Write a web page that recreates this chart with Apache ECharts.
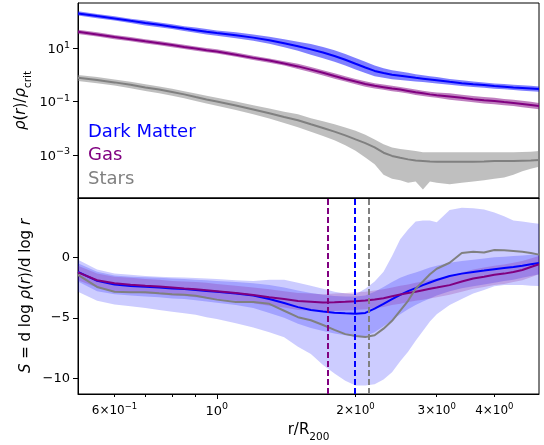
<!DOCTYPE html>
<html>
<head>
<meta charset="utf-8">
<script src="https://cdn.jsdelivr.net/npm/echarts@6/dist/echarts.min.js"></script>
<style>
html, body { margin: 0; padding: 0; background: #fff; }
#chart { width: 544px; height: 445px; }
</style>
</head>
<body>
<div id="chart"></div>
<script>
// radius grid r/R200
const r = [0.5, 0.55, 0.6, 0.65, 0.7, 0.75, 0.8, 0.85, 0.9, 0.95, 1.0, 1.1, 1.2, 1.3, 1.4, 1.5, 1.6, 1.7, 1.8, 1.9,
  2.0, 2.1, 2.2, 2.3, 2.4, 2.5, 2.6, 2.7, 2.8, 2.9, 3.0, 3.2, 3.4, 3.6, 3.8, 4.0, 4.2, 4.4, 4.6, 4.8, 5.0];

// top panel: log10(rho/rho_crit)
const dmLogRho = [2.31,2.21,2.12,2.03,1.95,1.88,1.81,1.74,1.68,1.62,1.57,1.49,1.40,1.30,1.19,1.08,0.96,0.84,0.71,0.57,0.42,0.28,0.15,0.07,0.01,-0.03,-0.07,-0.11,-0.14,-0.17,-0.20,-0.26,-0.31,-0.35,-0.38,-0.42,-0.44,-0.47,-0.49,-0.51,-0.53];
const dmLogRhoLo = [2.23,2.13,2.04,1.95,1.86,1.79,1.72,1.65,1.58,1.52,1.47,1.38,1.28,1.17,1.04,0.91,0.76,0.63,0.49,0.35,0.20,0.07,-0.05,-0.11,-0.16,-0.19,-0.22,-0.25,-0.27,-0.29,-0.32,-0.37,-0.42,-0.45,-0.48,-0.52,-0.54,-0.57,-0.59,-0.61,-0.63];
const dmLogRhoHi = [2.39,2.29,2.20,2.11,2.04,1.97,1.90,1.83,1.78,1.72,1.67,1.60,1.52,1.43,1.34,1.25,1.16,1.05,0.93,0.79,0.64,0.49,0.35,0.25,0.18,0.13,0.08,0.03,-0.01,-0.05,-0.08,-0.15,-0.20,-0.25,-0.28,-0.32,-0.34,-0.37,-0.39,-0.41,-0.43];
const gasLogRho = [1.62,1.52,1.42,1.34,1.26,1.19,1.12,1.05,0.99,0.93,0.88,0.76,0.64,0.54,0.43,0.32,0.20,0.08,-0.04,-0.15,-0.25,-0.34,-0.41,-0.46,-0.51,-0.55,-0.60,-0.65,-0.69,-0.73,-0.76,-0.81,-0.86,-0.91,-0.95,-0.98,-1.02,-1.05,-1.09,-1.13,-1.17];
const gasLogRhoLo = [1.54,1.44,1.34,1.26,1.18,1.11,1.04,0.97,0.91,0.85,0.80,0.68,0.56,0.46,0.35,0.22,0.10,-0.02,-0.14,-0.25,-0.35,-0.44,-0.51,-0.56,-0.61,-0.65,-0.70,-0.75,-0.79,-0.83,-0.86,-0.93,-0.98,-1.03,-1.07,-1.10,-1.14,-1.17,-1.21,-1.25,-1.29];
const gasLogRhoHi = [1.70,1.60,1.50,1.42,1.34,1.27,1.20,1.13,1.07,1.01,0.96,0.84,0.72,0.62,0.51,0.42,0.30,0.18,0.06,-0.05,-0.15,-0.24,-0.31,-0.36,-0.41,-0.45,-0.50,-0.55,-0.59,-0.63,-0.66,-0.69,-0.74,-0.79,-0.83,-0.86,-0.90,-0.93,-0.97,-1.01,-1.05];
const starLogRho = [-0.11,-0.19,-0.28,-0.37,-0.47,-0.55,-0.64,-0.73,-0.83,-0.92,-1.00,-1.15,-1.30,-1.44,-1.58,-1.70,-1.85,-1.99,-2.13,-2.27,-2.42,-2.56,-2.72,-2.92,-3.04,-3.11,-3.17,-3.21,-3.23,-3.25,-3.26,-3.26,-3.26,-3.26,-3.25,-3.23,-3.23,-3.23,-3.22,-3.21,-3.19];
const starLogRhoLo = [-0.23,-0.31,-0.40,-0.50,-0.60,-0.69,-0.78,-0.88,-0.98,-1.07,-1.16,-1.32,-1.48,-1.64,-1.80,-1.96,-2.13,-2.29,-2.45,-2.64,-2.85,-3.10,-3.35,-3.75,-3.90,-3.95,-4.05,-4.00,-4.30,-4.00,-4.05,-4.10,-4.05,-4.00,-3.95,-3.90,-3.85,-3.75,-3.62,-3.52,-3.45];
const starLogRhoHi = [0.00,-0.08,-0.17,-0.26,-0.35,-0.43,-0.52,-0.61,-0.70,-0.78,-0.86,-1.00,-1.14,-1.26,-1.38,-1.48,-1.63,-1.74,-1.85,-1.97,-2.10,-2.25,-2.42,-2.60,-2.72,-2.78,-2.82,-2.86,-2.90,-2.90,-2.90,-2.90,-2.90,-2.90,-2.90,-2.90,-2.90,-2.90,-2.89,-2.88,-2.86];

// bottom panel: logarithmic slope S
const dmS = [-1.2,-1.95,-2.25,-2.37,-2.43,-2.5,-2.57,-2.62,-2.7,-2.78,-2.85,-3.0,-3.16,-3.45,-3.78,-4.12,-4.35,-4.48,-4.58,-4.63,-4.66,-4.6,-4.25,-3.85,-3.45,-3.1,-2.8,-2.55,-2.3,-2.08,-1.88,-1.55,-1.35,-1.22,-1.1,-0.98,-0.88,-0.8,-0.7,-0.58,-0.47];
const dmSLo = [-2.0,-2.8,-3.05,-3.15,-3.25,-3.3,-3.4,-3.45,-3.55,-3.65,-3.75,-3.95,-4.2,-4.6,-5.0,-5.5,-5.85,-6.1,-6.3,-6.45,-6.55,-6.5,-6.2,-5.7,-5.2,-4.7,-4.3,-3.95,-3.65,-3.4,-3.15,-2.8,-2.55,-2.4,-2.25,-2.1,-1.95,-1.85,-1.7,-1.55,-1.4];
const dmSHi = [-0.5,-1.2,-1.5,-1.6,-1.65,-1.7,-1.75,-1.8,-1.85,-1.9,-1.95,-2.05,-2.15,-2.3,-2.5,-2.75,-2.95,-3.1,-3.2,-3.25,-3.25,-3.15,-2.85,-2.45,-2.05,-1.7,-1.45,-1.25,-1.05,-0.85,-0.7,-0.45,-0.3,-0.2,-0.1,0.0,0.05,0.1,0.15,0.2,0.25];
const gasS = [-1.25,-1.9,-2.15,-2.27,-2.35,-2.42,-2.5,-2.58,-2.65,-2.72,-2.8,-2.95,-3.12,-3.3,-3.45,-3.62,-3.68,-3.74,-3.72,-3.68,-3.64,-3.58,-3.48,-3.38,-3.22,-3.08,-2.95,-2.85,-2.72,-2.6,-2.5,-2.3,-2.0,-1.75,-1.6,-1.45,-1.35,-1.22,-1.05,-0.8,-0.58];
const gasSLo = [-1.9,-2.5,-2.8,-2.9,-3.0,-3.05,-3.15,-3.2,-3.3,-3.35,-3.45,-3.6,-3.8,-4.0,-4.15,-4.35,-4.4,-4.45,-4.45,-4.4,-4.35,-4.3,-4.2,-4.1,-3.95,-3.85,-3.7,-3.6,-3.5,-3.4,-3.3,-3.1,-2.85,-2.6,-2.45,-2.3,-2.2,-2.05,-1.9,-1.65,-1.4];
const gasSHi = [-0.7,-1.35,-1.6,-1.7,-1.8,-1.85,-1.95,-2.0,-2.05,-2.1,-2.2,-2.35,-2.5,-2.65,-2.8,-2.95,-3.0,-3.05,-3.0,-2.95,-2.9,-2.85,-2.75,-2.65,-2.5,-2.35,-2.25,-2.1,-2.0,-1.85,-1.75,-1.55,-1.25,-1.0,-0.85,-0.7,-0.6,-0.45,-0.3,-0.1,0.1];
const starS = [-1.45,-2.45,-2.85,-2.88,-2.9,-2.98,-3.05,-3.1,-3.18,-3.35,-3.5,-3.69,-3.7,-3.85,-4.42,-4.95,-5.2,-5.6,-6.0,-6.35,-6.5,-6.58,-6.45,-5.9,-5.25,-4.4,-3.6,-2.6,-2.0,-1.4,-0.95,-0.45,0.35,0.45,0.4,0.6,0.58,0.52,0.45,0.35,0.22];
const starSLo = [-2.85,-3.6,-3.9,-4.05,-4.2,-4.35,-4.5,-4.62,-4.75,-4.95,-5.1,-5.45,-5.8,-6.2,-6.6,-7.4,-8.0,-8.9,-9.6,-10.2,-10.6,-10.6,-10.5,-10.1,-9.5,-8.6,-7.8,-6.9,-6.1,-5.3,-4.7,-3.95,-3.45,-3.0,-2.7,-2.4,-2.3,-2.3,-2.3,-2.35,-2.37];
const starSHi = [-0.2,-1.0,-1.35,-1.45,-1.55,-1.6,-1.65,-1.68,-1.72,-1.75,-1.8,-1.9,-1.95,-1.85,-1.85,-2.1,-2.35,-2.6,-2.85,-3.0,-3.05,-2.6,-2.0,-1.2,0.1,1.5,2.3,2.95,3.05,3.05,2.9,3.9,4.1,4.05,3.95,3.7,3.4,3.05,2.95,2.85,2.78];

// radius of steepest slope: gas, dark matter, stars
const sMinR = [1.73, 1.99, 2.13];

// ticks
const xLabelTicks = [0.6, 1, 2, 3, 4];
const xMajorTicks = [1];
const xMinorTicks = [0.6, 0.7, 0.8, 0.9, 2, 3, 4];
const yTopTicks = [1, -1, -3];
const yBotTicks = [-10, -5, 0];

const FONT = 'DejaVu Sans';
const BLUE = '#0000ff', PURPLE = '#800080', GRAY = '#808080';
const lx = v => Math.log10(v);
const pts = ys => r.map((x, i) => [lx(x), ys[i]]);

// shaded band between lo and hi, drawn as one polygon
function band(lo, hi, fill, ax) {
  return {
    type: 'custom', xAxisIndex: ax, yAxisIndex: ax, silent: true, z: 1, clip: true,
    data: r.map((x, i) => [lx(x), lo[i], hi[i]]),
    encode: { x: 0, y: [1, 2] },
    renderItem: function (params, api) {
      if (params.dataIndex !== 0) return;
      const up = [], dn = [];
      for (let i = 0; i < r.length; i++) {
        up.push(api.coord([lx(r[i]), hi[i]]));
        dn.push(api.coord([lx(r[i]), lo[i]]));
      }
      return { type: 'polygon', shape: { points: up.concat(dn.reverse()) }, style: { fill: fill } };
    }
  };
}

function line(name, ys, color, ax, z) {
  return {
    type: 'line', name: name, xAxisIndex: ax, yAxisIndex: ax, data: pts(ys),
    symbol: 'none', silent: true, z: z, lineStyle: { color: color, width: 2 }
  };
}

const supText = {
  b: { fontFamily: FONT, fontSize: 13, color: '#000', lineHeight: 16, verticalAlign: 'bottom' },
  s: { fontFamily: FONT, fontSize: 9.5, color: '#000', lineHeight: 9, verticalAlign: 'top' },
  m: { fontFamily: FONT, fontSize: 12, color: '#000', lineHeight: 15, verticalAlign: 'bottom' },
  ms: { fontFamily: FONT, fontSize: 8.5, color: '#000', lineHeight: 8, verticalAlign: 'top' }
};

function expo(n) { return (n < 0 ? '\u2212' : '') + Math.abs(n); }

const xMin = lx(0.5), xMax = lx(5);

const bottomLines = [
  line('dm-s', dmS, BLUE, 1, 3),
  line('gas-s', gasS, PURPLE, 1, 3),
  line('star-s', starS, GRAY, 1, 4)
];
bottomLines[2].markLine = {
  silent: true, symbol: ['none', 'none'], label: { show: false }, animation: false,
  data: [
    { xAxis: lx(sMinR[0]), lineStyle: { color: PURPLE, type: [6, 3], width: 2 } },
    { xAxis: lx(sMinR[1]), lineStyle: { color: BLUE, type: [6, 3], width: 2 } },
    { xAxis: lx(sMinR[2]), lineStyle: { color: GRAY, type: [6, 3], width: 2 } }
  ]
};

const spine = { show: true, onZero: false, lineStyle: { color: '#000', width: 1 } };
const tick = (len, vals) => ({ show: true, inside: false, length: len, lineStyle: { color: '#000', width: 1 }, customValues: vals });

const option = {
  animation: false,
  backgroundColor: '#fff',
  grid: [
    { left: 78, top: 3, width: 461, height: 195, show: true, borderColor: '#000', borderWidth: 1, backgroundColor: 'transparent', outerBoundsMode: 'none' },
    { left: 78, top: 198, width: 461, height: 196, show: true, borderColor: '#000', borderWidth: 1, backgroundColor: 'transparent', outerBoundsMode: 'none' }
  ],
  legend: {
    left: 83, top: 123, orient: 'vertical', padding: 0, itemGap: 5.5,
    icon: 'none', itemWidth: 0, itemHeight: 0, selectedMode: false,
    textStyle: { fontFamily: FONT, fontSize: 18, lineHeight: 18 },
    data: [
      { name: 'Dark Matter', textStyle: { color: BLUE } },
      { name: 'Gas', textStyle: { color: PURPLE } },
      { name: 'Stars', textStyle: { color: GRAY } }
    ]
  },
  xAxis: [
    {
      type: 'value', gridIndex: 0, min: xMin, max: xMax, position: 'bottom',
      axisLine: spine, axisTick: { show: false }, axisLabel: { show: false }, splitLine: { show: false }
    },
    {
      type: 'value', gridIndex: 1, min: xMin, max: xMax, position: 'bottom',
      axisLine: spine, splitLine: { show: false },
      axisTick: tick(5, xMajorTicks.map(lx)),
      axisLabel: {
        show: true, margin: 8, customValues: xLabelTicks.map(lx),
        formatter: function (v) {
          const t = Math.round(Math.pow(10, v) * 10) / 10;
          if (t === 1) return '{b|10}{s|0}';
          if (t < 1) return '{m|' + Math.round(t * 10) + '\u00d710}{ms|\u22121}';
          return '{m|' + Math.round(t) + '\u00d710}{ms|0}';
        },
        rich: supText
      },
      name: '{n|r/R}{sub|200}', nameLocation: 'middle', nameGap: 29, nameMoveOverlap: false,
      nameTextStyle: {
        rich: {
          n: { fontFamily: FONT, fontSize: 15, color: '#000', lineHeight: 20, verticalAlign: 'top' },
          sub: { fontFamily: FONT, fontSize: 10.5, color: '#000', lineHeight: 10, verticalAlign: 'bottom' }
        }
      }
    },
    {
      type: 'value', gridIndex: 1, min: xMin, max: xMax, position: 'bottom',
      axisLine: { show: false, onZero: false }, splitLine: { show: false }, axisLabel: { show: false },
      axisTick: tick(3, xMinorTicks.map(lx))
    }
  ],
  yAxis: [
    {
      type: 'value', gridIndex: 0, min: -4.62, max: 2.70, position: 'left',
      axisLine: spine, splitLine: { show: false },
      axisTick: tick(5, yTopTicks),
      axisLabel: {
        margin: 8, customValues: yTopTicks,
        formatter: v => '{b|10}{s|' + expo(Math.round(v)) + '}',
        rich: supText
      },
      name: '{i|\u03c1}{n|(}{i|r}{n|)/}{i|\u03c1}{sub|crit}', nameLocation: 'middle', nameRotate: 90, nameGap: 44, nameMoveOverlap: false,
      nameTextStyle: {
        rich: {
          i: { fontFamily: FONT, fontSize: 15, fontStyle: 'italic', color: '#000', lineHeight: 20, verticalAlign: 'top' },
          n: { fontFamily: FONT, fontSize: 15, color: '#000', lineHeight: 20, verticalAlign: 'top' },
          sub: { fontFamily: FONT, fontSize: 10.5, color: '#000', lineHeight: 10, verticalAlign: 'bottom' }
        }
      }
    },
    {
      type: 'value', gridIndex: 1, min: -11.3, max: 4.9, position: 'left',
      axisLine: spine, splitLine: { show: false },
      axisTick: tick(5, yBotTicks),
      axisLabel: {
        margin: 8, customValues: yBotTicks, fontFamily: FONT, fontSize: 13, color: '#000',
        formatter: v => expo(Math.round(v))
      },
      name: '{i|S}{n| = d log }{i|\u03c1}{n|(}{i|r}{n|)/d log }{i|r}', nameLocation: 'middle', nameRotate: 90, nameGap: 44, nameMoveOverlap: false,
      nameTextStyle: {
        rich: {
          i: { fontFamily: FONT, fontSize: 15, fontStyle: 'italic', color: '#000' },
          n: { fontFamily: FONT, fontSize: 15, color: '#000' }
        }
      }
    }
  ],
  series: [
    band(dmLogRhoLo, dmLogRhoHi, 'rgba(0,0,255,0.5)', 0),
    band(gasLogRhoLo, gasLogRhoHi, 'rgba(128,0,128,0.5)', 0),
    band(starLogRhoLo, starLogRhoHi, 'rgba(128,128,128,0.5)', 0),
    line('Dark Matter', dmLogRho, BLUE, 0, 3),
    line('Gas', gasLogRho, PURPLE, 0, 3),
    line('Stars', starLogRho, GRAY, 0, 3),
    band(starSLo, starSHi, 'rgba(0,0,255,0.2)', 1),
    band(dmSLo, dmSHi, 'rgba(0,0,255,0.2)', 1),
    band(gasSLo, gasSHi, 'rgba(128,0,128,0.2)', 1)
  ].concat(bottomLines)
};

const chart = echarts.init(document.getElementById('chart'), null, { renderer: 'canvas' });
chart.setOption(option);
</script>
</body>
</html>
